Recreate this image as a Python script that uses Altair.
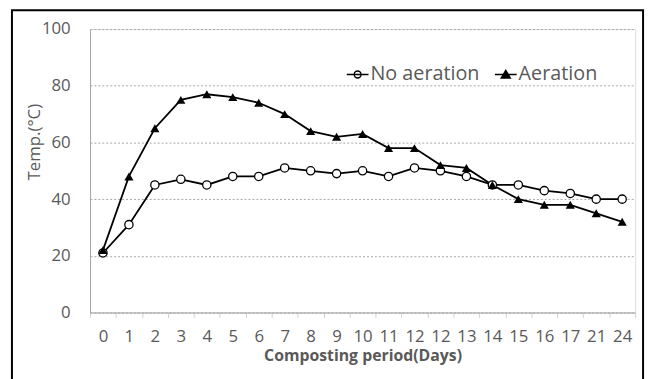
import altair as alt
import pandas as pd

day_labels = ["0", "1", "2", "3", "4", "5", "6", "7", "8", "9", "10", "11",
              "12", "12", "13", "14", "15", "16", "17", "21", "24"]
no_aeration = [21, 31, 45, 47, 45, 48, 48, 51, 50, 49, 50, 48, 51, 50, 48, 45, 45, 43, 42, 40, 40]
aeration = [22, 48, 65, 75, 77, 76, 74, 70, 64, 62, 63, 58, 58, 52, 51, 45, 40, 38, 38, 35, 32]
series_names = ["No aeration", "Aeration"]
y_ticks = [0, 20, 40, 60, 80, 100]

rows = []
for i in range(len(day_labels)):
    rows.append({"idx": i, "series": series_names[0], "temp": no_aeration[i]})
    rows.append({"idx": i, "series": series_names[1], "temp": aeration[i]})
df = pd.DataFrame(rows)

label_expr = "[" + ",".join("'%s'" % l for l in day_labels) + "][datum.value]"

GRAY_TXT = "#595959"
GRAY_LINE = "#a6a6a6"
FONT = "Open Sans"

x_enc = alt.X(
    "idx:O",
    scale=alt.Scale(paddingInner=0, paddingOuter=0),
    axis=alt.Axis(
        title="Composting period(Days)",
        labelExpr=label_expr,
        labelAngle=0,
        tickBand="extent",
        tickSize=5,
        tickColor="#d0d0d0",
        domainColor=GRAY_LINE,
        labelPadding=11,
        labelFontSize=17,
        labelColor=GRAY_TXT,
        labelFont=FONT,
        titleFont=FONT,
        titleFontSize=16,
        titleFontWeight="bold",
        titleColor=GRAY_TXT,
        titleY=36,
        titleBaseline="top",
        grid=False,
    ),
)
y_enc = alt.Y(
    "temp:Q",
    scale=alt.Scale(domain=[0, 100], nice=False),
    axis=alt.Axis(
        title="Temp.(°C)",
        values=y_ticks,
        ticks=False,
        labelPadding=20,
        labelFontSize=17,
        labelColor=GRAY_TXT,
        labelFont=FONT,
        domainColor=GRAY_LINE,
        grid=True,
        gridColor=GRAY_LINE,
        gridDash=[2, 2],
        titleFont=FONT,
        titleFontSize=17,
        titleFontWeight="normal",
        titleColor=GRAY_TXT,
        titleX=-56,
        titleY=114,
        titleAngle=-90,
        titleBaseline="middle",
        titleAlign="center",
    ),
)

base = alt.Chart(df)

lines = base.mark_line(color="black", strokeWidth=1.8).encode(
    x=x_enc, y=y_enc, detail="series:N"
)
circles = base.transform_filter(alt.datum.series == series_names[0]).mark_point(
    shape="circle", filled=True, fill="white", stroke="black", strokeWidth=1.3, size=70, opacity=1
).encode(x=x_enc, y=y_enc)
triangles = base.transform_filter(alt.datum.series == series_names[1]).mark_point(
    shape="triangle-up", filled=True, color="black", size=85, opacity=1
).encode(x=x_enc, y=y_enc)

circle_path = "M-1,0H1M0.32,0A0.32,0.32 0 1,1 -0.32,0A0.32,0.32 0 1,1 0.32,0Z"
tri_path = "M-1,0H1M0,-0.38L0.42,0.32L-0.42,0.32Z"


def make_legend():
    return alt.Legend(
        title=None,
        orient="none",
        legendX=259,
        legendY=34,
        direction="horizontal",
        symbolSize=484,
        symbolStrokeWidth=1.4,
        symbolOpacity=1,
        labelFont=FONT,
        labelFontSize=20,
        labelColor=GRAY_TXT,
        labelOffset=1,
        columnPadding=12,
        padding=0,
        labelLimit=300,
    )


legend_layer = base.transform_filter("false").mark_point(
    filled=True, strokeWidth=1.4
).encode(
    x=x_enc,
    y=y_enc,
    shape=alt.Shape(
        "series:N",
        scale=alt.Scale(domain=series_names, range=[circle_path, tri_path]),
        legend=make_legend(),
    ),
    fill=alt.Fill(
        "series:N",
        scale=alt.Scale(domain=series_names, range=["white", "black"]),
        legend=make_legend(),
    ),
    stroke=alt.Stroke(
        "series:N",
        scale=alt.Scale(domain=series_names, range=["black", "black"]),
        legend=make_legend(),
    ),
)

frame = alt.Chart(pd.DataFrame({"k": [0]})).mark_rect(
    fill=None, stroke="black", strokeWidth=2, clip=False
).encode(
    x=alt.value(-79), x2=alt.value(560), y=alt.value(-19), y2=alt.value(380)
)

chart = alt.layer(frame, lines, circles, triangles, legend_layer).properties(
    width=552,
    height=287,
    autosize=alt.AutoSizeParams(type="none"),
    padding={"left": 83, "top": 19, "right": 13, "bottom": 65},
).configure_view(stroke=GRAY_LINE, strokeWidth=1).configure(background="white")

chart.save("out.html", embed_options={"renderer": "svg", "actions": False})
